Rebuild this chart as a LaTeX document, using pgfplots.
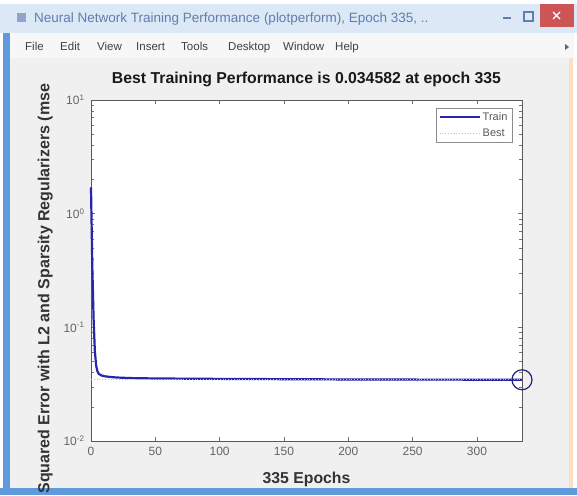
\documentclass[border=0pt]{standalone}
\usepackage{fontspec}
\setmainfont{Liberation Sans}
\usepackage{pgfplots}
\pgfplotsset{compat=1.18}
\definecolor{figbg}{RGB}{240,240,240}
\definecolor{winblue}{RGB}{95,155,220}
\definecolor{titlebar}{RGB}{220,232,245}
\definecolor{titletext}{RGB}{95,125,175}
\definecolor{menubg}{RGB}{247,247,247}
\definecolor{closered}{RGB}{205,85,85}
\definecolor{trainblue}{RGB}{38,38,170}
\definecolor{bestgreen}{RGB}{175,205,140}
\definecolor{circ}{RGB}{35,35,120}
\definecolor{ticktext}{RGB}{100,100,100}
\begin{document}
\begin{tikzpicture}
\useasboundingbox (0,0) rectangle (577pt,-495pt);
\fill[white] (0,0) rectangle (577pt,-495pt);
% figure background
\fill[figbg] (3pt,-58pt) rectangle (572pt,-489pt);
% title bar
\fill[titlebar] (0,-4pt) rectangle (577pt,-33pt);
\node[anchor=base west,inner sep=0pt,text=titletext,font=\fontsize{13.5}{15}\selectfont] at (34pt,-23pt) {Neural Network Training Performance (plotperform), Epoch 335, ..};
\fill[titletext!70] (17pt,-13pt) rectangle (26pt,-22pt);
\draw[titletext,line width=1.5pt] (503pt,-18pt) -- (511pt,-18pt);
\draw[titletext,line width=1.5pt] (524pt,-12pt) rectangle (533pt,-21pt);
\fill[closered] (540pt,-4pt) rectangle (574pt,-27pt);
\draw[white,line width=1.2pt] (553pt,-12pt) -- (560pt,-19pt) (560pt,-12pt) -- (553pt,-19pt);
% menu bar
\fill[menubg] (3pt,-33pt) rectangle (574pt,-58pt);
\foreach \x/\t in {25/File,60/Edit,97/View,136/Insert,181/Tools,228/Desktop,283/Window,335/Help}
  \node[anchor=base west,inner sep=0pt,text=black!75,font=\fontsize{11.5}{13}\selectfont] at (\x pt,-51pt) {\t};
\fill[black!60] (565pt,-44pt) -- (569pt,-47pt) -- (565pt,-50pt) -- cycle;
% window borders
\fill[winblue] (3pt,-33pt) rectangle (10pt,-495pt);
\fill[winblue] (0pt,-488pt) rectangle (577pt,-495pt);
\fill[orange!25] (569pt,-58pt) rectangle (573pt,-488pt);
\begin{axis}[
  at={(91pt,-441pt)}, anchor=south west,
  scale only axis, width=431pt, height=341pt,
  ymode=log, xmin=0, xmax=335, ymin=0.01, ymax=10,
  axis background/.style={fill=white},
  axis line style={black!65},
  tick align=inside, major tick length=4pt,
  every tick/.style={black!55},
  xtick={0,50,100,150,200,250,300},
  ytick={0.01,0.1,1,10},
  yticklabels={10\textsuperscript{-2},10\textsuperscript{-1},10\textsuperscript{0},10\textsuperscript{1}},
  minor ytick={},
  /pgf/number format/assume math mode=true,
  ticklabel style={text=ticktext,font=\fontsize{12}{14}\selectfont},
  xticklabel style={yshift=-3pt},
  yticklabel style={xshift=-3pt},
  title={Best Training Performance is 0.034582 at epoch 335},
  title style={at={(axis description cs:0.5,1.03)},anchor=base,inner sep=0pt,font=\bfseries\fontsize{15.8}{18}\selectfont,text=black!90},
  xlabel={335 Epochs},
  xlabel style={at={(axis description cs:0.5,-0.125)},anchor=base,inner sep=0pt,font=\bfseries\fontsize{15.8}{18}\selectfont,text=black!80},
  ylabel={Squared Error with L2 and Sparsity Regularizers (mse},
  ylabel style={at={(axis description cs:-0.088,-0.155)},anchor=south west,rotate=0,inner sep=0pt,font=\bfseries\fontsize{16}{18}\selectfont,text=black!80},
  legend style={at={(0.977,0.977)},anchor=north east,font=\fontsize{11}{13}\selectfont,draw=black!45,inner sep=2.5pt,row sep=3pt,text=black!65},
  legend cell align=left,
  legend image code/.code={\draw[#1] (0pt,0pt) -- (40pt,0pt);},
  clip=false,
]
\addplot[trainblue,line width=2.2pt] coordinates {
(0,1.7) (1,0.35) (2,0.12) (3,0.062) (4,0.046) (5,0.041) (6,0.039) (8,0.0378) (10,0.0372) (15,0.0366) (20,0.0362) (30,0.0358) (50,0.0355) (100,0.0352) (150,0.0350) (200,0.0348) (250,0.0347) (300,0.03465) (335,0.034582)};
\addlegendentry{Train}
\addplot[bestgreen,dotted,line width=0.8pt] coordinates {(0,0.034582) (335,0.034582)};
\addlegendentry{Best}
\addplot[circ,only marks,mark=o,mark size=10pt,line width=1.2pt,forget plot] coordinates {(335,0.034582)};
\end{axis}
\end{tikzpicture}
\end{document}
